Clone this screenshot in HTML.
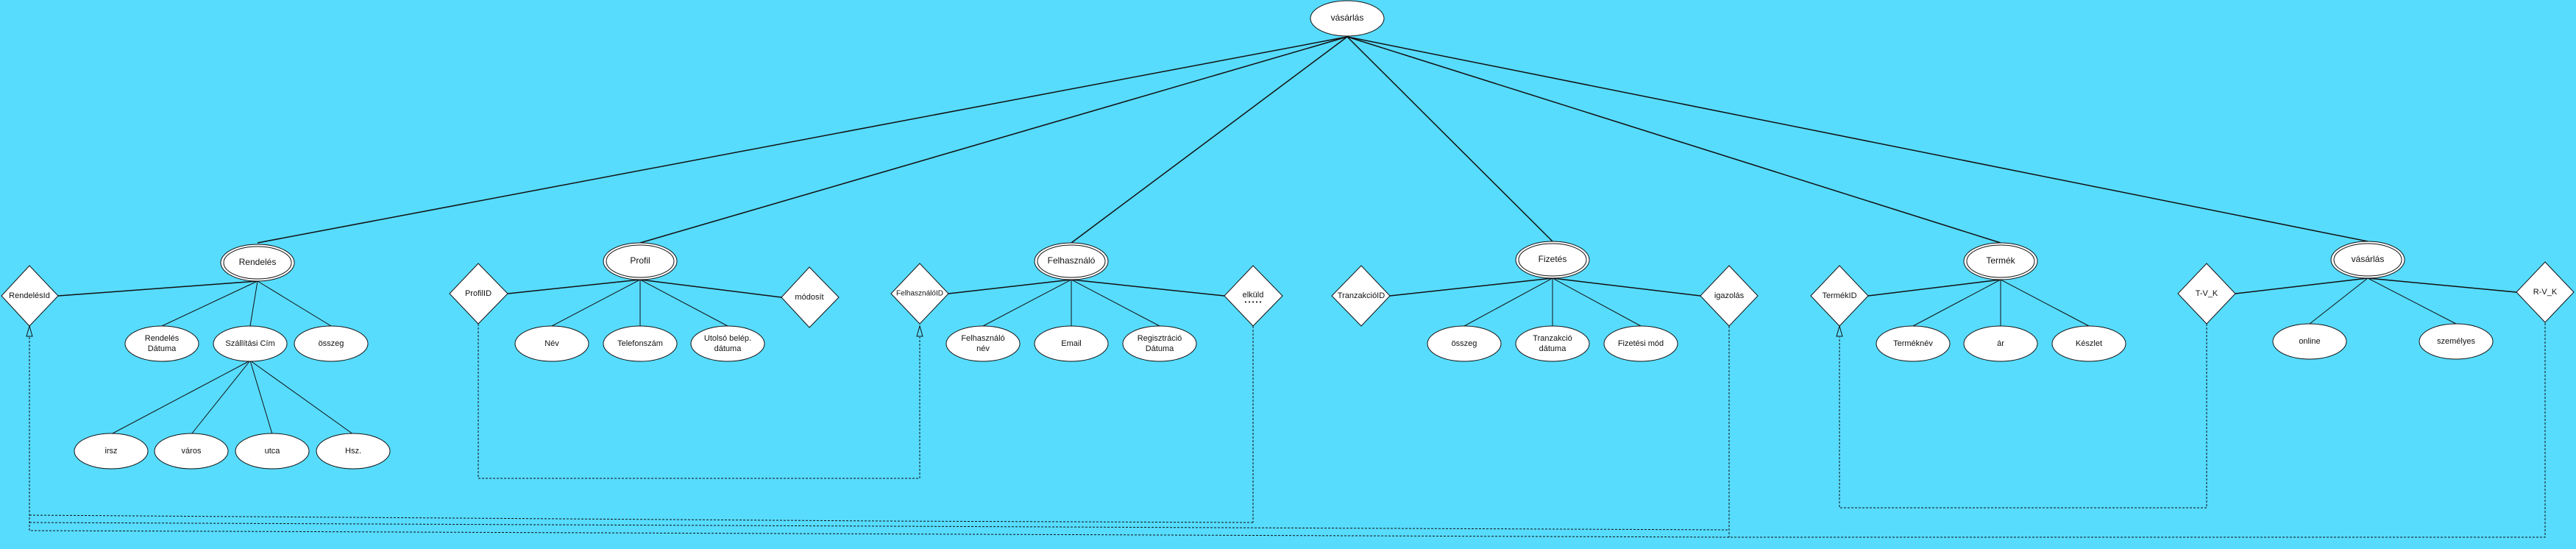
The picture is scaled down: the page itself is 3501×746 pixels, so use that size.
<!DOCTYPE html>
<html><head><meta charset="utf-8"><style>
html,body{margin:0;padding:0;background:#57dcfe;}
svg{display:block}
text{font-family:"Liberation Sans",sans-serif;font-size:12px;fill:#111;text-anchor:middle;dominant-baseline:middle}
</style></head><body>
<svg width="3501" height="746" viewBox="0 0 3501 746" xmlns="http://www.w3.org/2000/svg">
<rect width="3501" height="746" fill="#57dcfe"/>
<g stroke="#111" stroke-width="1.5" fill="none">
<!-- top to entities -->
<line x1="1831" y1="50" x2="350" y2="330"/>
<line x1="1831" y1="50" x2="870" y2="330"/>
<line x1="1831" y1="50" x2="1456" y2="330"/>
<line x1="1831" y1="50" x2="2110" y2="328"/>
<line x1="1831" y1="50" x2="2719" y2="330"/>
<line x1="1831" y1="50" x2="3218" y2="328"/>
<!-- entity to diamonds -->
<line x1="350" y1="382" x2="79" y2="402"/>
<line x1="870" y1="380" x2="690" y2="399"/>
<line x1="870" y1="380" x2="1062" y2="404"/>
<line x1="1456" y1="380" x2="1289" y2="399"/>
<line x1="1456" y1="380" x2="1664" y2="402"/>
<line x1="2110" y1="378" x2="1889" y2="402"/>
<line x1="2110" y1="378" x2="2311" y2="402"/>
<line x1="2719" y1="380" x2="2539" y2="402"/>
<line x1="3218" y1="378" x2="3038" y2="399"/>
<line x1="3218" y1="378" x2="3420" y2="397"/>
</g>
<g stroke="#111" stroke-width="1" fill="none">
<line x1="350" y1="382" x2="220" y2="443"/>
<line x1="350" y1="382" x2="340" y2="443"/>
<line x1="350" y1="382" x2="450" y2="443"/>
<line x1="340" y1="490" x2="151" y2="590"/>
<line x1="340" y1="490" x2="260" y2="590"/>
<line x1="340" y1="490" x2="370" y2="590"/>
<line x1="340" y1="490" x2="480" y2="590"/>
<line x1="870" y1="380" x2="750" y2="443"/>
<line x1="870" y1="380" x2="870" y2="443"/>
<line x1="870" y1="380" x2="989" y2="443"/>
<line x1="1456" y1="380" x2="1336" y2="443"/>
<line x1="1456" y1="380" x2="1456" y2="443"/>
<line x1="1456" y1="380" x2="1576" y2="443"/>
<line x1="2110" y1="378" x2="1990" y2="443"/>
<line x1="2110" y1="378" x2="2110" y2="443"/>
<line x1="2110" y1="378" x2="2230" y2="443"/>
<line x1="2719" y1="380" x2="2600" y2="443"/>
<line x1="2719" y1="380" x2="2719" y2="443"/>
<line x1="2719" y1="380" x2="2839" y2="443"/>
<line x1="3218" y1="378" x2="3139" y2="440"/>
<line x1="3218" y1="378" x2="3338" y2="440"/>
</g>
<!-- dashed -->
<g stroke="#111" stroke-width="1" fill="none" stroke-dasharray="3,2">
<polyline points="650,440 650,650 1250,650 1250,458"/>
<polyline points="2999,440 2999,690 2500,690 2500,458"/>
<polyline points="40,458 40,721 2350,730 3459,730 3459,438"/>
<polyline points="40,710 1200,715 2350,720"/>
<polyline points="40,700 1200,708 1703,710"/>
<polyline points="1703,443 1703,710"/>
<polyline points="2350,443 2350,730"/>
</g>
<g stroke="#111" stroke-width="1" fill="#57dcfe">
<polygon points="40,443 36,457 44,457"/>
<polygon points="1250,443 1246,457 1254,457"/>
<polygon points="2500,443 2496,457 2504,457"/>
</g>
<!-- diamonds -->
<g stroke="#111" stroke-width="1" fill="#fff">
<polygon points="40,361 79,402 40,443 2,402"/>
<polygon points="650,358 690,399 650,440 611,399"/>
<polygon points="1100,363 1140,404 1100,445 1062,404"/>
<polygon points="1250,358 1289,399 1250,440 1211,399"/>
<polygon points="1703,361 1743,402 1703,443 1664,402"/>
<polygon points="1850,361 1889,402 1850,443 1810,402"/>
<polygon points="2350,361 2389,402 2350,443 2311,402"/>
<polygon points="2500,361 2539,402 2500,443 2461,402"/>
<polygon points="2999,358 3038,399 2999,440 2960,399"/>
<polygon points="3459,356 3498,397 3459,438 3420,397"/>
</g>
<!-- top ellipse -->
<ellipse cx="1831" cy="25" rx="50" ry="24" fill="#fff" stroke="#111" stroke-width="1"/>
<!-- entities double -->
<g fill="#fff" stroke="#111" stroke-width="1">
<ellipse cx="350" cy="357" rx="50" ry="25"/><ellipse cx="350" cy="357" rx="46" ry="22"/>
<ellipse cx="870" cy="355" rx="50" ry="25"/><ellipse cx="870" cy="355" rx="46" ry="22"/>
<ellipse cx="1456" cy="355" rx="50" ry="25"/><ellipse cx="1456" cy="355" rx="46" ry="22"/>
<ellipse cx="2110" cy="353" rx="50" ry="25"/><ellipse cx="2110" cy="353" rx="46" ry="22"/>
<ellipse cx="2719" cy="355" rx="50" ry="25"/><ellipse cx="2719" cy="355" rx="46" ry="22"/>
<ellipse cx="3218" cy="353" rx="50" ry="25"/><ellipse cx="3218" cy="353" rx="46" ry="22"/>
</g>
<!-- attributes -->
<g fill="#fff" stroke="#111" stroke-width="1">
<ellipse cx="220" cy="467" rx="50" ry="24"/><ellipse cx="340" cy="467" rx="50" ry="24"/><ellipse cx="450" cy="467" rx="50" ry="24"/>
<ellipse cx="151" cy="613" rx="50" ry="24"/><ellipse cx="260" cy="613" rx="50" ry="24"/><ellipse cx="370" cy="613" rx="50" ry="24"/><ellipse cx="480" cy="613" rx="50" ry="24"/>
<ellipse cx="750" cy="467" rx="50" ry="24"/><ellipse cx="870" cy="467" rx="50" ry="24"/><ellipse cx="989" cy="467" rx="50" ry="24"/>
<ellipse cx="1336" cy="467" rx="50" ry="24"/><ellipse cx="1456" cy="467" rx="50" ry="24"/><ellipse cx="1576" cy="467" rx="50" ry="24"/>
<ellipse cx="1990" cy="467" rx="50" ry="24"/><ellipse cx="2110" cy="467" rx="50" ry="24"/><ellipse cx="2230" cy="467" rx="50" ry="24"/>
<ellipse cx="2600" cy="467" rx="50" ry="24"/><ellipse cx="2719" cy="467" rx="50" ry="24"/><ellipse cx="2839" cy="467" rx="50" ry="24"/>
<ellipse cx="3139" cy="464" rx="50" ry="24"/><ellipse cx="3338" cy="464" rx="50" ry="24"/>
</g>
<g>
<text x="1831" y="25">vásárlás</text>
<text x="350" y="357">Rendelés</text>
<text x="870" y="355">Profil</text>
<text x="1456" y="355">Felhasználó</text>
<text x="2110" y="353">Fizetés</text>
<text x="2719" y="355">Termék</text>
<text x="3218" y="353">vásárlás</text>
<text x="40" y="402" style="font-size:11px">RendelésId</text>
<text x="650" y="399" style="font-size:11px">ProfilID</text>
<text x="1100" y="404" style="font-size:11px">módosít</text>
<text x="1250" y="399" style="font-size:10px">FelhasználóID</text>
<text x="1703" y="401" style="font-size:11px">elküld</text>
<text x="1703" y="411" style="font-size:8px">• • • • •</text>
<text x="1850" y="402" style="font-size:11px">TranzakcióID</text>
<text x="2350" y="402" style="font-size:11px">igazolás</text>
<text x="2500" y="402" style="font-size:11px">TermékID</text>
<text x="2999" y="399" style="font-size:11px">T-V_K</text>
<text x="3459" y="397" style="font-size:11px">R-V_K</text>
<text x="220" y="460" style="font-size:11px">Rendelés</text><text x="220" y="474" style="font-size:11px">Dátuma</text>
<text x="340" y="467" style="font-size:11px">Szállítási Cím</text>
<text x="450" y="467" style="font-size:11px">összeg</text>
<text x="151" y="613" style="font-size:11px">irsz</text>
<text x="260" y="613" style="font-size:11px">város</text>
<text x="370" y="613" style="font-size:11px">utca</text>
<text x="480" y="613" style="font-size:11px">Hsz.</text>
<text x="750" y="467" style="font-size:11px">Név</text>
<text x="870" y="467" style="font-size:11px">Telefonszám</text>
<text x="989" y="460" style="font-size:11px">Utolsó belép.</text><text x="989" y="474" style="font-size:11px">dátuma</text>
<text x="1336" y="460" style="font-size:11px">Felhasználó</text><text x="1336" y="474" style="font-size:11px">név</text>
<text x="1456" y="467" style="font-size:11px">Email</text>
<text x="1576" y="460" style="font-size:11px">Regisztráció</text><text x="1576" y="474" style="font-size:11px">Dátuma</text>
<text x="1990" y="467" style="font-size:11px">összeg</text>
<text x="2110" y="460" style="font-size:11px">Tranzakció</text><text x="2110" y="474" style="font-size:11px">dátuma</text>
<text x="2230" y="467" style="font-size:11px">Fizetési mód</text>
<text x="2600" y="467" style="font-size:11px">Terméknév</text>
<text x="2719" y="467" style="font-size:11px">ár</text>
<text x="2839" y="467" style="font-size:11px">Készlet</text>
<text x="3139" y="464" style="font-size:11px">online</text>
<text x="3338" y="464" style="font-size:11px">személyes</text>
</g>
</svg>
</body></html>
